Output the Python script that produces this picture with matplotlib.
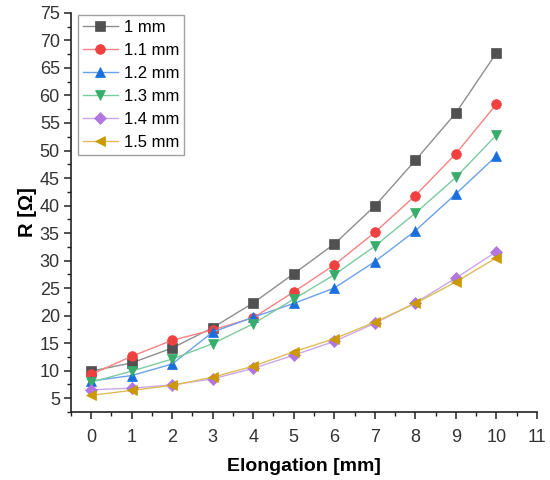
import matplotlib
matplotlib.use("Agg")
import matplotlib.pyplot as plt
from matplotlib.ticker import MultipleLocator
from matplotlib.colors import to_rgb

plt.rcParams['font.family'] = ['Liberation Sans', 'DejaVu Sans']

elongation = [0, 1, 2, 3, 4, 5, 6, 7, 8, 9, 10]
labels = ["1 mm", "1.1 mm", "1.2 mm", "1.3 mm", "1.4 mm", "1.5 mm"]
r_10 = [9.9, 11.4, 14.1, 17.8, 22.3, 27.6, 33.0, 39.9, 48.2, 56.8, 67.7]
r_11 = [9.3, 12.6, 15.5, 17.4, 19.6, 24.3, 29.2, 35.1, 41.8, 49.4, 58.4]
r_12 = [8.1, 9.1, 11.2, 17.0, 19.7, 22.2, 25.0, 29.8, 35.4, 42.1, 49.0]
r_13 = [7.9, 9.9, 12.1, 14.9, 18.5, 23.0, 27.4, 32.6, 38.6, 45.1, 52.8]
r_14 = [6.5, 6.8, 7.4, 8.5, 10.4, 12.8, 15.3, 18.6, 22.3, 26.8, 31.6]
r_15 = [5.5, 6.4, 7.3, 8.8, 10.8, 13.4, 15.8, 18.8, 22.2, 26.1, 30.5]
series = [r_10, r_11, r_12, r_13, r_14, r_15]

colors = ["#515151", "#F14040", "#1A6FDF", "#37AD6B", "#B177DE", "#CC9900"]
markers = ["s", "o", "^", "v", "D", "<"]
msizes = [6.5, 7, 7.5, 7.5, 6, 7.5]


def lighten(c, f=0.35):
    r, g, b = to_rgb(c)
    return (r + (1 - r) * f, g + (1 - g) * f, b + (1 - b) * f)


fig = plt.figure(figsize=(5.5, 4.8), dpi=100)
ax = fig.add_axes([0.129, 0.142, 0.847, 0.831])

for ys, lab, c, m, ms in zip(series, labels, colors, markers, msizes):
    ax.plot(elongation, ys, color=lighten(c), lw=1.0, label=lab,
            marker=m, markersize=ms, markerfacecolor=c,
            markeredgecolor=c, markeredgewidth=0.5)

ax.set_xlim(-0.5, 11)
ax.set_ylim(2.5, 75)
ax.xaxis.set_major_locator(MultipleLocator(1))
ax.xaxis.set_minor_locator(MultipleLocator(0.5))
ax.yaxis.set_major_locator(MultipleLocator(5))
ax.yaxis.set_minor_locator(MultipleLocator(2.5))
ax.set_yticks(range(5, 80, 5))

for s in ["top", "right"]:
    ax.spines[s].set_visible(False)
for s in ["left", "bottom"]:
    ax.spines[s].set_linewidth(1.2)
    ax.spines[s].set_color("#222222")

ax.tick_params(which="major", direction="out", length=5, width=1.1,
               labelsize=13, colors="#222222", labelcolor="#333333")
ax.tick_params(axis="y", which="major", pad=3)
ax.tick_params(axis="x", which="major", pad=7)
ax.tick_params(which="minor", direction="out", length=3, width=1.0,
               colors="#222222")

ax.set_xlabel("Elongation [mm]", fontsize=14, fontweight="bold", labelpad=9)
ax.set_ylabel("R [Ω]", fontsize=14.5, fontweight="bold", labelpad=2)

leg = ax.legend(loc="upper left", bbox_to_anchor=(0.015, 0.995), fontsize=12,
                frameon=True, fancybox=False, edgecolor="#888888",
                handlelength=2.1, handletextpad=0.35, borderpad=0.3,
                labelspacing=0.48, borderaxespad=0.0)
leg.get_frame().set_linewidth(1.0)

fig.savefig("out.png", dpi=100)
